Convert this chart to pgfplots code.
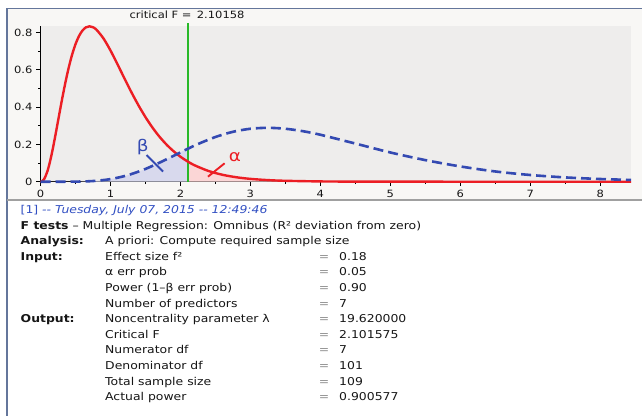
\documentclass[border=0pt]{standalone}
\usepackage{pgfplots}
\pgfplotsset{compat=1.18}
\usepackage{fontspec}
\setmainfont{DejaVu Sans}[FakeStretch=1.15]

\definecolor{panelbg}{RGB}{248,247,245}
\definecolor{plotbg}{RGB}{238,237,236}
\definecolor{frameblue}{RGB}{100,118,155}
\definecolor{framegray}{RGB}{160,160,160}
\definecolor{fred}{RGB}{236,30,36}
\definecolor{fblue}{RGB}{52,74,178}
\definecolor{critgreen}{RGB}{40,185,40}
\definecolor{betafill}{RGB}{216,217,237}
\definecolor{alphafill}{RGB}{251,214,214}
\definecolor{dateblue}{RGB}{50,80,195}
\definecolor{txt}{RGB}{22,22,22}
\definecolor{eqgray}{RGB}{140,140,140}

% one output row: baseline, label, value
\newcommand\row[3]{%
  \node[anchor=base west,inner sep=0] at (105,-#1) {#2};
  \node[anchor=base,inner sep=0,text=eqgray] at (324,-#1) {=};
  \node[anchor=base west,inner sep=0] at (339,-#1) {#3};}

\begin{document}
\begin{tikzpicture}
\useasboundingbox (0pt,0pt) rectangle (642pt,-416pt);
\fill[white] (0pt,0pt) rectangle (642pt,-416pt);
\fill[panelbg] (7pt,-8pt) rectangle (642pt,-200pt);

\begin{axis}[
  at={(40.5pt,-181.7pt)}, anchor=south west,
  scale only axis, width=590.5pt, height=155.7pt,
  xmin=0, xmax=8.44, ymin=0, ymax=0.836,
  axis lines=left, axis line style={-, line width=1.2pt, black},
  axis background/.style={fill=plotbg},
  clip=false,
  xtick={0,1,...,8}, minor xtick={0.5,1.5,...,7.5},
  ytick={0,0.2,0.4,0.6,0.8}, yticklabels={0,0.2,0.4,0.6,0.8},
  minor ytick={0.1,0.3,0.5,0.7},
  tick align=outside, major tick length=4.5pt, minor tick length=2.5pt,
  tick style={black, line width=1pt},
  tick label style={font=\fontsize{10}{12}\selectfont, text=txt},
  /pgf/number format/assume math mode=true,
]
  % beta area under noncentral curve, left of critical F
  \addplot[draw=none, fill=betafill, smooth] coordinates {
    (0,0) (0.25,0.00001) (0.5,0.0004) (0.75,0.0036) (1,0.0139) (1.25,0.0353)
    (1.5,0.0685) (1.75,0.1110) (2,0.1574) (2.10158,0.1762)} \closedcycle;
  % alpha area under central curve, right of critical F
  \addplot[draw=none, fill=alphafill, smooth] coordinates {
    (2.10158,0.1089) (2.2,0.0886) (2.4,0.0578) (2.6,0.0373) (2.8,0.0239)
    (3,0.0152) (3.25,0.0086) (3.5,0.0049) (4,0.0015) (4.5,0.0005)
    (5,0.0002) (6,0) (8.44,0)} \closedcycle;

  % critical F line
  \addplot[color=critgreen, line width=2pt, mark=none] coordinates {(2.10158,0) (2.10158,0.854)};

  % central F(7,101)
  \addplot[fred, line width=2.4pt, smooth] coordinates {
    (0,0) (0.02,0.0014) (0.05,0.0122) (0.1,0.0572) (0.15,0.1310) (0.2,0.2235)
    (0.25,0.3247) (0.3,0.4263) (0.35,0.5220) (0.4,0.6073) (0.45,0.6798)
    (0.5,0.7380) (0.55,0.7818) (0.6,0.8117) (0.65,0.8287) (0.7,0.8342)
    (0.75,0.8294) (0.8,0.8160) (0.9,0.7693) (1,0.7048) (1.1,0.6310)
    (1.2,0.5545) (1.3,0.4800) (1.4,0.4103) (1.5,0.3469) (1.6,0.2908)
    (1.7,0.2418) (1.8,0.1998) (1.9,0.1642) (2,0.1342) (2.10158,0.1089)
    (2.2,0.0886) (2.4,0.0578) (2.6,0.0373) (2.8,0.0239) (3,0.0152)
    (3.25,0.0086) (3.5,0.0049) (4,0.0015) (4.5,0.0005) (5,0.0002)
    (6,0) (7,0) (8.44,0)};
  % noncentral F, lambda = 19.62
  \addplot[fblue, line width=2.6pt, dash pattern=on 10pt off 5pt, smooth] coordinates {
    (0,0) (0.25,0.00001) (0.5,0.0004) (0.75,0.0036) (1,0.0139) (1.25,0.0353)
    (1.5,0.0685) (1.75,0.1110) (2,0.1574) (2.10158,0.1762) (2.25,0.2021)
    (2.5,0.2401) (2.75,0.2679) (3,0.2843) (3.25,0.2893) (3.5,0.2843)
    (3.75,0.2712) (4,0.2522) (4.5,0.2049) (5,0.1570) (5.5,0.1160)
    (6,0.0820) (6.5,0.0550) (7,0.0360) (7.5,0.0230) (8,0.0145) (8.44,0.0095)};

  \draw[fblue, line width=1.9pt] (axis cs:1.515,0.143) -- (axis cs:1.752,0.054);
  \draw[fred, line width=1.9pt] (axis cs:2.394,0.027) -- (axis cs:2.632,0.099);
  \node[text=fblue, font=\fontsize{16}{18}\selectfont] at (axis cs:1.461,0.186) {β};
  \node[text=fred, font=\fontsize{16}{18}\selectfont] at (axis cs:2.779,0.132) {α};
\end{axis}

\begin{scope}[x=1pt,y=1pt]
\node[font=\fontsize{10}{12}\selectfont, text=txt] at (187,-14.5) {critical F = \,2.10158};

% frame lines
\draw[frameblue, line width=1.5pt] (7,-8.3) -- (642,-8.3);
\draw[frameblue, line width=1.5pt] (7,-8) -- (7,-416);
\draw[framegray, line width=2pt] (7,-200) -- (642,-200);

\begin{scope}[font=\fontsize{10.8}{13}\selectfont, text=txt]
  \node[anchor=base west,inner sep=0,text=dateblue] at (20.5,-213.4)
    {[1] \textit{-{}- Tuesday, July 07, 2015 -{}- 12:49:46}};
  \node[anchor=base west,inner sep=0] at (20.5,-229.0)
    {\textbf{F tests} – Multiple Regression: Omnibus (R² deviation from zero)};
  \node[anchor=base west,inner sep=0] at (20.5,-244.6) {\textbf{Analysis:}};
  \node[anchor=base west,inner sep=0] at (105,-244.6) {A priori: Compute required sample size};
  \node[anchor=base west,inner sep=0] at (20.5,-260.2) {\textbf{Input:}};
  \row{260.2}{Effect size f²}{0.18}
  \row{275.8}{α err prob}{0.05}
  \row{291.4}{Power (1–β err prob)}{0.90}
  \row{307.0}{Number of predictors}{7}
  \node[anchor=base west,inner sep=0] at (20.5,-322.6) {\textbf{Output:}};
  \row{322.6}{Noncentrality parameter λ}{19.620000}
  \row{338.2}{Critical F}{2.101575}
  \row{353.8}{Numerator df}{7}
  \row{369.4}{Denominator df}{101}
  \row{385.0}{Total sample size}{109}
  \row{400.6}{Actual power}{0.900577}
\end{scope}
\end{scope}
\end{tikzpicture}
\end{document}
